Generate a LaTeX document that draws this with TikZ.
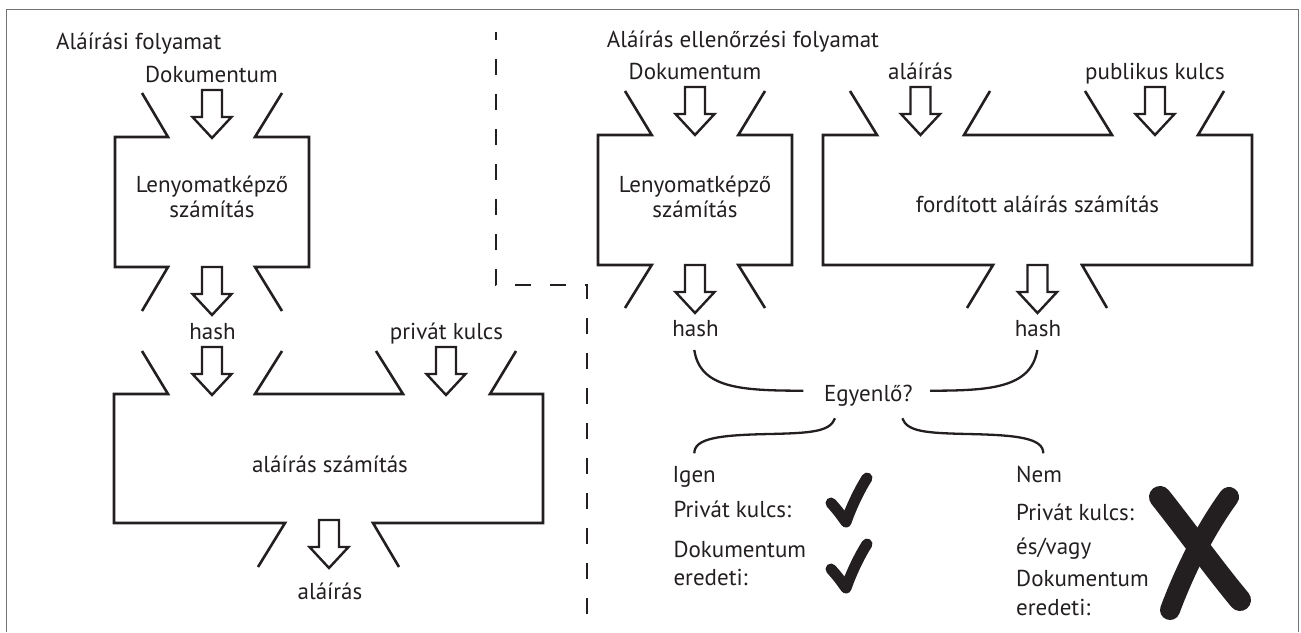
\documentclass[tikz,border=0pt]{standalone}
\usepackage{fontspec}
\setmainfont{PT Sans}
\definecolor{ink}{RGB}{35,31,32}
\begin{document}
\begin{tikzpicture}[x=1pt,y=-1pt,
  blk/.style={draw=ink,line width=2.6pt,line join=miter},
  arrline/.style={draw=ink,line width=2.4pt,line join=miter},
  lbl/.style={inner sep=0pt,text=ink,font=\fontsize{23}{25}\selectfont},
  bracelin/.style={draw=ink,line width=2.3pt},
  dashln/.style={draw=ink,line width=2.6pt,dash pattern=on 16pt off 19pt,dash phase=8pt},
  tickmk/.style={draw=ink,line width=11pt,line cap=round,line join=round},
  crossmk/.style={draw=ink,line width=22pt,line cap=round},
  framest/.style={draw=black!55,line width=1.5pt},
  harrow/.pic={\draw[arrline] (-10,0) -- (10,0) -- (10,27) -- (19.5,27) -- (0,48) -- (-19.5,27) -- (-10,27) -- cycle;}
]
\useasboundingbox (0,0) rectangle (1301,632);
\draw[framest] (6.5,632) -- (6.5,9.5) -- (1298.5,9.5) -- (1298.5,632);

% dashed divider
\coordinate (d1) at (496,32);
\coordinate (d2) at (496,285);
\coordinate (d3) at (587,285);
\coordinate (d4) at (587,632);
\draw[dashln] (d1) -- (d2) -- (d3) -- (d4);

% ---------- left: signing ----------
\node[lbl,anchor=base west] (titleL) at (56,49) {Aláírási folyamat};
\node[lbl,anchor=base] (docL) at (211.5,82.5) {Dokumentum};
\pic at (212,90) {harrow};
\draw[blk] (142,93) -- (168,137) -- (115,137) -- (115,267) -- (168,267) -- (142,311);
\draw[blk] (282,93) -- (255,137) -- (309,137) -- (309,267) -- (255,267) -- (282,311);
\node[lbl,align=center] (lenyL) at (212,197) {Lenyomatképző\\számítás};
\pic at (212,267) {harrow};
\node[lbl,anchor=base] (hashL) at (212.5,339.5) {hash};
\node[lbl,anchor=base] (privL) at (446.5,339.5) {privát kulcs};
\pic at (212,347) {harrow};
\pic at (446,347) {harrow};
\draw[blk] (142,351) -- (168,394) -- (114,394) -- (114,523) -- (285,523) -- (258,567);
\draw[blk] (282,351) -- (255,394) -- (403,394) -- (376,351);
\draw[blk] (516,351) -- (490,394) -- (543,394) -- (543,523) -- (373,523) -- (399,567);
\node[lbl,anchor=base] (szamL) at (330,472.5) {aláírás számítás};
\pic at (329,520) {harrow};
\node[lbl,anchor=base] (outL) at (330,599) {aláírás};

% ---------- right: verification ----------
\node[lbl,anchor=base west] (titleR) at (606.7,47.5) {Aláírás ellenőrzési folyamat};
\node[lbl,anchor=base] (docR) at (695,79) {Dokumentum};
\node[lbl,anchor=base] (sigR) at (920.5,79) {aláírás};
\node[lbl,anchor=base] (pubR) at (1155,79) {publikus kulcs};
\pic at (695,87) {harrow};
\pic at (920.5,87) {harrow};
\pic at (1155,87) {harrow};
\draw[blk] (625,91) -- (651.7,135) -- (598,135) -- (598,265) -- (651.7,265) -- (625,308);
\draw[blk] (765,91) -- (738.3,135) -- (792,135) -- (792,265) -- (738.3,265) -- (765,308);
\node[lbl,align=center] (lenyR) at (695,197) {Lenyomatképző\\számítás};
\draw[blk] (850,91) -- (877,135) -- (823,135) -- (823,265) -- (993,265) -- (967,308);
\draw[blk] (990,91) -- (964,135) -- (1112,135) -- (1085,91);
\draw[blk] (1224,91) -- (1198,135) -- (1252,135) -- (1252,265) -- (1082,265) -- (1107,308);
\node[lbl,anchor=base] (fordR) at (1037.5,212.5) {fordított aláírás számítás};
\pic at (695,265) {harrow};
\pic at (1037.5,265) {harrow};
\node[lbl,anchor=base] (hashA) at (695.5,336) {hash};
\node[lbl,anchor=base] (hashB) at (1038,336) {hash};
\node[lbl,anchor=base] (eq) at (868.3,401.5) {Egyenlő?};

\coordinate (hA) at (694.3,350);
\coordinate (hB) at (1037.3,350);
\coordinate (eqW) at (803.3,390.7);
\coordinate (eqE) at (930,390.7);
\coordinate (eqSW) at (835,418.3);
\coordinate (eqSE) at (902.3,418.3);
\coordinate (yesN) at (694.3,453.3);
\coordinate (noN) at (1043.3,453.3);
\draw[bracelin] (hA) .. controls (700,388) and (740,390.7) .. (eqW);
\draw[bracelin] (hB) .. controls (1031,388) and (990,390.7) .. (eqE);
\draw[bracelin] (eqSW) .. controls (830,432) and (810,433) .. (770,434)
  .. controls (720,435) and (694.3,438) .. (yesN);
\draw[bracelin] (eqSE) .. controls (907.3,432) and (927.3,433) .. (967.3,434)
  .. controls (1017.3,435) and (1043.3,438) .. (noN);

\node[lbl,anchor=base west] (igen) at (672.3,482.5) {Igen};
\node[lbl,anchor=base west] (privA) at (673.3,517.5) {Privát kulcs:};
\node[lbl,anchor=base west] (docA) at (673.3,557.5) {Dokumentum};
\node[lbl,anchor=base west] (eredA) at (673.3,585.5) {eredeti:};
\node[lbl,anchor=base west] (nem) at (1016,482.5) {Nem};
\node[lbl,anchor=base west] (privB) at (1016,520.5) {Privát kulcs:};
\node[lbl,anchor=base west] (esvagy) at (1016,554) {és/vagy};
\node[lbl,anchor=base west] (docB) at (1016,586.5) {Dokumentum};
\node[lbl,anchor=base west] (eredB) at (1016,615.5) {eredeti:};

% check marks
\draw[tickmk] (831,503) .. controls (838,511) .. (846,522) .. controls (852,505) and (860,489) .. (867,478);
\draw[tickmk] (831,569) .. controls (838,577) .. (846,588) .. controls (852,571) and (860,555) .. (867,544);
% cross
\draw[crossmk] (1160,497) .. controls (1190,535) and (1215,570) .. (1240,600);
\draw[crossmk,line width=20pt] (1229,497) .. controls (1205,530) and (1185,570) .. (1170,610);
\end{tikzpicture}
\end{document}
